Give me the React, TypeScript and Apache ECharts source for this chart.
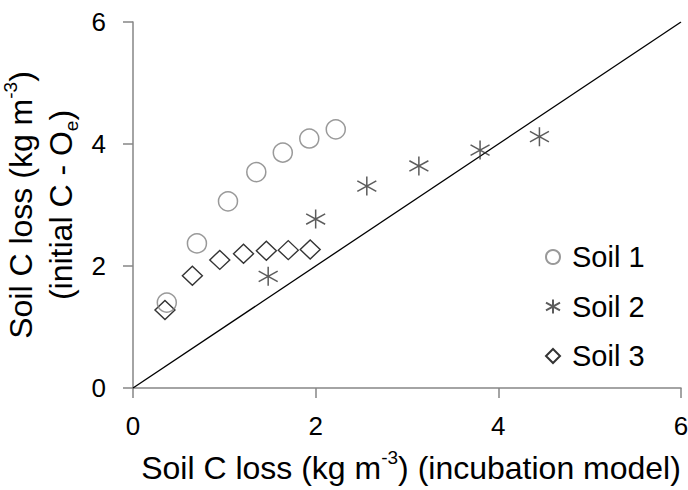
import React, { useEffect, useRef } from "react";
import * as echarts from "echarts";

const soil1X = [0.37, 0.70, 1.04, 1.35, 1.64, 1.93, 2.22];
const soil1Y = [1.40, 2.37, 3.06, 3.54, 3.86, 4.09, 4.24];
const soil2X = [1.48, 2.00, 2.56, 3.13, 3.80, 4.45];
const soil2Y = [1.83, 2.77, 3.31, 3.64, 3.90, 4.12];
const soil3X = [0.35, 0.65, 0.95, 1.21, 1.46, 1.70, 1.94];
const soil3Y = [1.28, 1.84, 2.10, 2.20, 2.25, 2.26, 2.27];
const oneToOne = [[0, 0], [6, 6]];
const seriesNames = ["Soil 1", "Soil 2", "Soil 3"];
const axisMin = 0;
const axisMax = 6;
const axisStep = 2;

const FONT = "'Liberation Sans', Arial, sans-serif";
const ASTERISK = "path://M10 0 L10 20 M0 4.5 L20 15.5 M0 15.5 L20 4.5";

const zip = (xs: number[], ys: number[]) => xs.map((x, i) => [x, ys[i]]);

export default function App() {
  const ref = useRef<HTMLDivElement>(null);
  useEffect(() => {
    if (!ref.current) return;
    const chart = echarts.init(ref.current, undefined, { renderer: "svg" });
    const axisLine = { lineStyle: { color: "#868686", width: 1.5 } };
    const axisTick = { length: 10, lineStyle: { color: "#868686", width: 1.5 } };
    const rich = {
      n: { fontSize: 32, lineHeight: 40, color: "#000", fontFamily: FONT },
      sup: { fontSize: 19, lineHeight: 19, verticalAlign: "top", color: "#000", fontFamily: FONT },
      sub: { fontSize: 19, lineHeight: 19, verticalAlign: "bottom", color: "#000", fontFamily: FONT },
    };
    chart.setOption({
      animation: false,
      textStyle: { fontFamily: FONT },
      grid: {
        left: 133,
        right: 7,
        top: 22,
        bottom: 102,
        containLabel: false,
        outerBoundsMode: "none",
      },
      xAxis: {
        type: "value",
        min: axisMin,
        max: axisMax,
        interval: axisStep,
        splitLine: { show: false },
        axisLine,
        axisTick,
        axisLabel: { fontSize: 26, color: "#000", margin: 25, fontFamily: FONT },
        name: "{n|Soil C loss (kg m}{sup|-3}{n|) (incubation model)}",
        nameLocation: "middle",
        nameGap: 60,
        nameTextStyle: { rich, padding: [0, 0, 0, 8] },
      },
      yAxis: {
        type: "value",
        min: axisMin,
        max: axisMax,
        interval: axisStep,
        splitLine: { show: false },
        axisLine,
        axisTick,
        axisLabel: { fontSize: 26, color: "#000", margin: 27, fontFamily: FONT },
        name: "{n|Soil C loss (kg m}{sup|-3}{n|)}\n{n|(initial C - O}{sub|e}{n|)}",
        nameLocation: "middle",
        nameGap: 48,
        nameTextStyle: { rich },
      },
      legend: {
        data: seriesNames,
        orient: "vertical",
        left: 540,
        top: 237,
        itemWidth: 14,
        itemHeight: 14,
        itemGap: 19.5,
        textStyle: { fontSize: 29, lineHeight: 30, color: "#000", padding: [0, 0, 0, 7], fontFamily: FONT },
      },
      series: [
        {
          name: "1:1",
          type: "line",
          data: oneToOne,
          showSymbol: false,
          symbol: "none",
          lineStyle: { color: "#000", width: 1.3 },
          silent: true,
          z: 1,
        },
        {
          name: seriesNames[0],
          type: "scatter",
          data: zip(soil1X, soil1Y),
          symbol: "circle",
          symbolSize: 19,
          itemStyle: { color: "rgba(255,255,255,0)", borderColor: "#808080", borderWidth: 1.5 },
          z: 3,
        },
        {
          name: seriesNames[1],
          type: "scatter",
          data: zip(soil2X, soil2Y),
          symbol: ASTERISK,
          symbolSize: [19, 19],
          itemStyle: { color: "rgba(255,255,255,0)", borderColor: "#333", borderWidth: 1.5 },
          z: 3,
        },
        {
          name: seriesNames[2],
          type: "scatter",
          data: zip(soil3X, soil3Y),
          symbol: "diamond",
          symbolSize: [20, 19],
          itemStyle: { color: "rgba(255,255,255,0)", borderColor: "#000", borderWidth: 1.4 },
          z: 2,
        },
      ],
    });
    return () => chart.dispose();
  }, []);
  return (
    <div
      ref={ref}
      style={{ position: "absolute", left: 0, top: 0, width: 688, height: 490 }}
    />
  );
}
